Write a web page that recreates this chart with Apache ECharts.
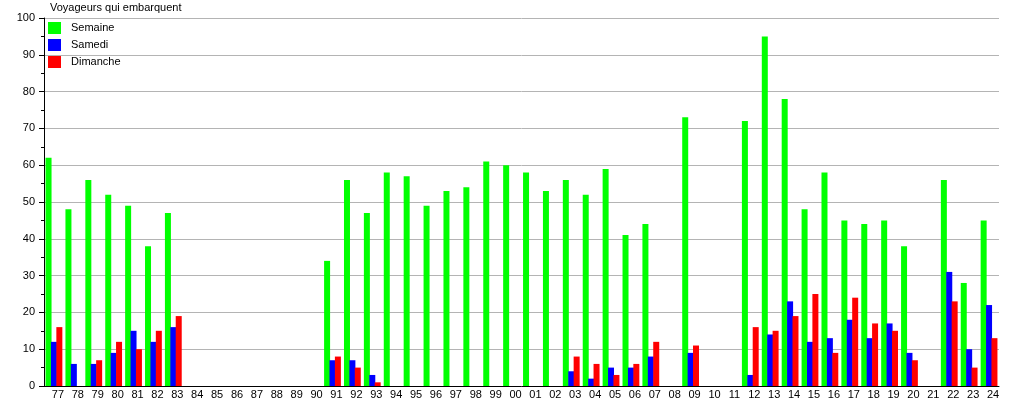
<!DOCTYPE html>
<html><head><meta charset="utf-8">
<script src="https://cdn.jsdelivr.net/npm/echarts@6/dist/echarts.min.js"></script>
<style>html,body{margin:0;padding:0;background:#fff}#c{width:1015px;height:400px}</style>
</head><body><div id="c"></div>
<script>
const categories = ['77','78','79','80','81','82','83','84','85','86','87','88','89','90','91','92','93','94','95','96','97','98','99','00','01','02','03','04','05','06','07','08','09','10','11','12','13','14','15','16','17','18','19','20','21','22','23','24'];
const semaine =  [62,48,56,52,49,38,47,0,0,0,0,0,0,0,34,56,47,58,57,49,53,54,61,60,58,53,56,52,59,41,44,0,73,0,0,72,95,78,48,58,45,44,45,38,0,56,28,45];
const samedi =   [12,6,6,9,15,12,16,0,0,0,0,0,0,0,7,7,3,0,0,0,0,0,0,0,0,0,4,2,5,5,8,0,9,0,0,3,14,23,12,13,18,13,17,9,0,31,10,22];
const dimanche = [16,0,7,12,10,15,19,0,0,0,0,0,0,0,8,5,1,0,0,0,0,0,0,0,0,0,8,6,3,6,12,0,11,0,0,16,15,19,25,9,24,17,15,7,0,23,5,13];
const seriesNames = ['Semaine','Samedi','Dimanche'];
const yTicks = {min:0, max:100, interval:10};

const font = 'Liberation Sans, Arial, sans-serif';
const chart = echarts.init(document.getElementById('c'), null, {renderer:'canvas'});
const mk = (name, data, color) => ({
  name, type:'bar', data, barWidth:6, barGap:'-10%',
  itemStyle:{color}, animation:false
});
chart.setOption({
  animation:false,
  title:{text:'Voyageurs qui embarquent', left:50, top:2, padding:0,
    textStyle:{fontFamily:font, fontSize:11, fontWeight:'normal', color:'#000'}},
  legend:{orient:'vertical', left:48, top:22, padding:0, itemWidth:13, itemHeight:12, itemGap:5,
    icon:'rect', data:seriesNames,
    textStyle:{fontFamily:font, fontSize:11, color:'#000', padding:[0,0,0,5]}},
  grid:{left:44, right:16, top:18, bottom:12, containLabel:false},
  xAxis:{type:'category', data:categories,
    axisLine:{lineStyle:{color:'#000', width:1}},
    axisTick:{show:false},
    axisLabel:{color:'#000', fontFamily:font, fontSize:11, margin:3, interval:0, padding:[0,0,0,8]},
    splitLine:{show:false}},
  yAxis:{type:'value', min:yTicks.min, max:yTicks.max, interval:yTicks.interval,
    axisLine:{show:true, lineStyle:{color:'#000', width:1}},
    axisTick:{show:true, length:5, lineStyle:{color:'#000'}},
    minorTick:{show:true, splitNumber:2, length:3, lineStyle:{color:'#000'}},
    axisLabel:{color:'#000', fontFamily:font, fontSize:11, margin:9},
    splitLine:{show:true, lineStyle:{color:'#b4b4b4', width:1}}},
  series:[mk(seriesNames[0], semaine, '#00ff00'), mk(seriesNames[1], samedi, '#0000ff'), mk(seriesNames[2], dimanche, '#ff0000')]
});
</script></body></html>
